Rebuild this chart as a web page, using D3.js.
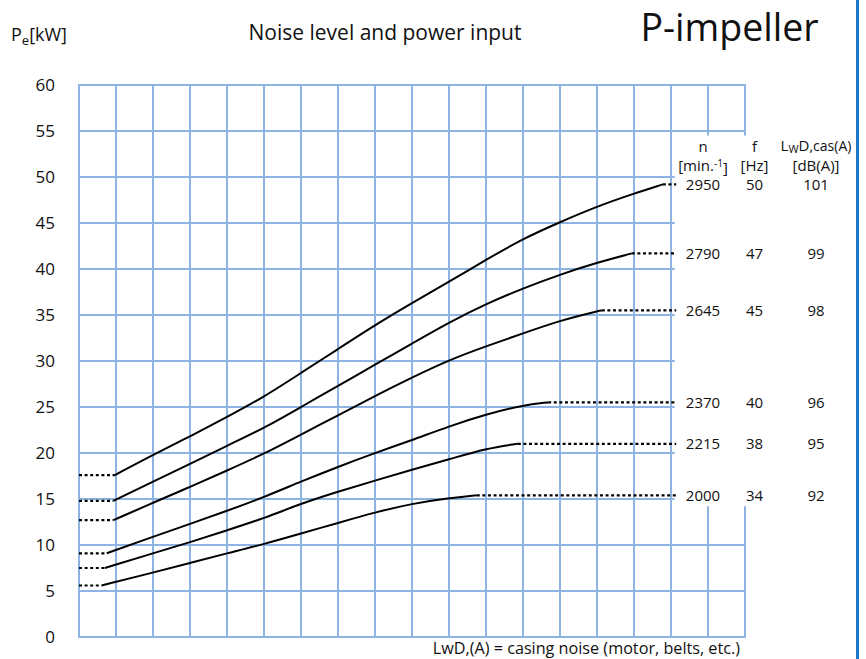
<!DOCTYPE html>
<html>
<head>
<meta charset="utf-8">
<script src="https://cdn.jsdelivr.net/npm/d3@7"></script>
<style>
  html, body { margin: 0; padding: 0; background: #fff; }
  svg { display: block; font-family: "Open Sans", "Noto Sans", sans-serif; }
</style>
</head>
<body>
<svg id="chart" width="866" height="659"></svg>
<script>
// ---------- data ----------
const yTicks = [0, 5, 10, 15, 20, 25, 30, 35, 40, 45, 50, 55, 60];
const xColumns = d3.range(0, 19);          // grid columns (no labels)
const speeds = ["2950", "2790", "2645", "2370", "2215", "2000"];
const freqs = ["50", "47", "45", "40", "38", "34"];
const noise = ["101", "99", "98", "96", "95", "92"];
// curve points: [column position, Pe kW]
const c2950 = [[0.97,17.6],[2,19.8],[3,21.8],[4,23.9],[5,26.1],[6,28.7],[7,31.3],[8,33.9],[9,36.3],[10,38.6],[11,41.0],[12,43.3],[13,45.1],[14,46.8],[15,48.2],[15.78,49.2]];
const c2790 = [[0.93,14.8],[2,16.9],[3,18.8],[4,20.8],[5,22.7],[6,25.0],[7,27.3],[8,29.6],[9,31.9],[10,34.2],[11,36.2],[12,37.9],[13,39.4],[14,40.7],[14.94,41.7]];
const c2645 = [[0.93,12.7],[2,14.6],[3,16.3],[4,18.1],[5,19.9],[6,22.0],[7,24.1],[8,26.2],[9,28.2],[10,30.1],[11,31.6],[12,33.0],[13,34.4],[14,35.4],[14.13,35.5]];
const c2370 = [[0.75,9.1],[2,10.9],[3,12.3],[4,13.7],[5,15.2],[6,16.9],[7,18.5],[8,20.0],[9,21.4],[10,22.9],[11,24.2],[12,25.2],[12.68,25.5]];
const c2215 = [[0.70,7.5],[2,9.1],[3,10.3],[4,11.6],[5,12.9],[6,14.5],[7,15.8],[8,17.0],[9,18.2],[10,19.3],[11,20.5],[11.86,21.0]];
const c2000 = [[0.61,5.6],[2,7.0],[3,8.05],[4,9.1],[5,10.1],[6,11.25],[7,12.4],[8,13.55],[9,14.5],[10,15.1],[10.75,15.4]];
const curves = [c2950, c2790, c2645, c2370, c2215, c2000];
const dotEnd = 16.14;          // where right dotted extensions stop
const gridCut = 16.1;          // horizontal lines 15..50 stop here
const gapTop = 54.5, gapBottom = 14.2;   // vertical lines 17,18 interrupted between these

// ---------- scales ----------
const x = d3.scaleLinear().domain([0, 18]).range([79, 745]);
const y = d3.scaleLinear().domain([0, 60]).range([637, 85]);

const svg = d3.select("#chart");
const gridColor = "#8eb4e3";

// ---------- grid ----------
const grid = svg.append("g").attr("stroke", gridColor).attr("stroke-width", 2).attr("fill", "none");
yTicks.forEach(v => {
  const full = v <= 10 || v >= 55;
  grid.append("line")
    .attr("x1", x(0) - 1).attr("x2", full ? x(18) + 1 : x(gridCut))
    .attr("y1", y(v)).attr("y2", y(v));
});
xColumns.forEach(c => {
  if (c >= 17) {
    grid.append("line").attr("x1", x(c)).attr("x2", x(c)).attr("y1", y(60)).attr("y2", y(gapTop));
    grid.append("line").attr("x1", x(c)).attr("x2", x(c)).attr("y1", y(gapBottom)).attr("y2", y(0));
  } else {
    grid.append("line").attr("x1", x(c)).attr("x2", x(c)).attr("y1", y(60)).attr("y2", y(0));
  }
});

// ---------- y axis labels ----------
const yAxis = d3.axisLeft(y).tickValues(yTicks).tickSize(0).tickPadding(24).tickFormat(d3.format("d"));
const ya = svg.append("g").attr("transform", `translate(${x(0)},0)`).call(yAxis);
ya.select(".domain").remove();
ya.selectAll("text").attr("font-size", 17).attr("fill", "#111").attr("font-family", '"Open Sans", sans-serif');

// ---------- curves ----------
const line = d3.line().x(d => x(d[0])).y(d => y(d[1])).curve(d3.curveBasis);
const cg = svg.append("g").attr("fill", "none").attr("stroke", "#000");
curves.forEach(pts => {
  const first = pts[0], last = pts[pts.length - 1];
  cg.append("path").attr("d", line(pts)).attr("stroke-width", 2);
  cg.append("line").attr("x1", x(0)).attr("x2", x(first[0])).attr("y1", y(first[1])).attr("y2", y(first[1]))
    .attr("stroke-width", 2.2).attr("stroke-dasharray", "3,2.6");
  cg.append("line").attr("x1", x(last[0])).attr("x2", x(dotEnd)).attr("y1", y(last[1])).attr("y2", y(last[1]))
    .attr("stroke-width", 2.2).attr("stroke-dasharray", "3,2.6");
});

// ---------- table ----------
const tg = svg.append("g").attr("font-size", 15).attr("fill", "#111").attr("text-anchor", "middle");
const colN = 703, colF = 754.5, colL = 816;
curves.forEach((pts, i) => {
  const yy = y(pts[pts.length - 1][1]);
  tg.append("text").attr("x", colN).attr("y", yy).attr("dy", "0.36em").text(speeds[i]);
  tg.append("text").attr("x", colF).attr("y", yy).attr("dy", "0.36em").text(freqs[i]);
  tg.append("text").attr("x", colL).attr("y", yy).attr("dy", "0.36em").text(noise[i]);
});
// headers
tg.append("text").attr("x", colN).attr("y", 147).attr("dy", "0.36em").text("n");
const mh = tg.append("text").attr("x", colN).attr("y", 166).attr("dy", "0.36em");
mh.append("tspan").text("[min.");
mh.append("tspan").attr("font-size", 10).attr("dy", "-0.4em").text("-1");
mh.append("tspan").attr("dy", "0.4em").text("]");
tg.append("text").attr("x", colF).attr("y", 147).attr("dy", "0.36em").text("f");
tg.append("text").attr("x", colF).attr("y", 166).attr("dy", "0.36em").text("[Hz]");
const lh = tg.append("text").attr("x", colL).attr("y", 146).attr("dy", "0.36em");
lh.append("tspan").text("L");
lh.append("tspan").attr("font-size", 11).attr("dy", 2).text("W");
lh.append("tspan").attr("dy", -2).text("D");
lh.append("tspan").attr("font-size", 14).text(",cas(A)");
tg.append("text").attr("x", colL).attr("y", 166).attr("dy", "0.36em").text("[dB(A)]");

// ---------- titles ----------
const pe = svg.append("text").attr("x", 11).attr("y", 41).attr("font-size", 18).attr("fill", "#111");
pe.append("tspan").text("P");
pe.append("tspan").attr("font-size", 13).attr("dy", 4).text("e");
pe.append("tspan").attr("dy", -4).text("[kW]");

svg.append("text").attr("x", 385).attr("y", 40).attr("text-anchor", "middle")
  .attr("font-size", 21).attr("fill", "#111").text("Noise level and power input");
svg.append("text").attr("x", 729.5).attr("y", 41).attr("text-anchor", "middle")
  .attr("font-size", 37.5).attr("fill", "#111").text("P-impeller");

svg.append("text").attr("x", 740).attr("y", 654).attr("text-anchor", "end")
  .attr("font-size", 16.2).attr("fill", "#111").text("LwD,(A) = casing noise (motor, belts, etc.)");

// right border
svg.append("line").attr("x1", 857.5).attr("x2", 857.5).attr("y1", 0).attr("y2", 659)
  .attr("stroke", "#1b75c6").attr("stroke-width", 3);
</script>
</body>
</html>
